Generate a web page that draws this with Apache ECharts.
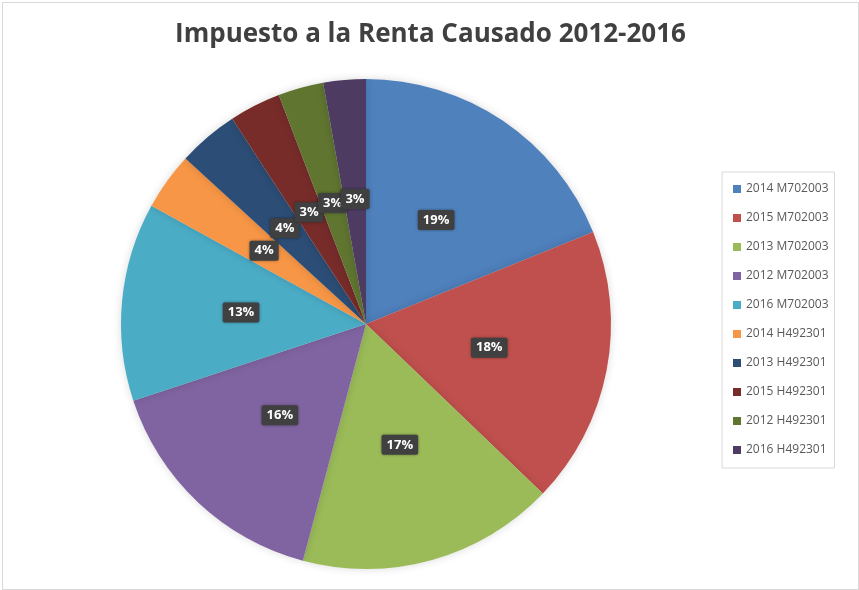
<!DOCTYPE html>
<html>
<head>
<meta charset="UTF-8" />
<script type="text/javascript" src="https://cdn.jsdelivr.net/npm/echarts@6/dist/echarts.min.js"></script>
<style>
	body { margin: 0; background: #fff; }
	#chartmain { position: absolute; left: 2px; top: 2px; width: 855px; height: 586px; border: 1px solid #d9d9d9; }
</style>
</head>
<body>
	<div id="chartmain"></div>

	<script type="text/javascript">
		// categorias y valores (en %)
		var categorias = ['2014 M702003', '2015 M702003', '2013 M702003', '2012 M702003', '2016 M702003',
			'2014 H492301', '2013 H492301', '2015 H492301', '2012 H492301', '2016 H492301'];
		var valores = [18.9, 18.3, 17.0, 15.8, 13.1, 3.8, 4.0, 3.4, 3.0, 2.8];
		var colores = ['#4F81BD', '#C0504D', '#9BBB59', '#8064A2', '#4BACC6',
			'#F79646', '#2C4D75', '#772C2A', '#5F7530', '#4D3B62'];

		var datos = [];
		for (var i = 0; i < categorias.length; i++) {
			datos.push({ name: categorias[i], value: valores[i] });
		}

		var option = {
			color: colores,
			title: {
				text: 'Impuesto a la Renta Causado 2012-2016',
				left: 'center',
				top: 14,
				textStyle: {
					fontFamily: 'Open Sans',
					fontSize: 26,
					fontWeight: 'bold',
					color: '#404040'
				}
			},
			legend: {
				orient: 'vertical',
				left: 719,
				top: 169,
				width: 126,
				data: categorias,
				itemWidth: 8,
				itemHeight: 8,
				itemGap: 17,
				icon: 'rect',
				borderColor: '#d9d9d9',
				borderWidth: 1,
				padding: [11, 6, 12, 11],
				textStyle: {
					fontFamily: 'Open Sans',
					fontSize: 12,
					color: '#595959'
				}
			},
			series: [{
				name: 'Impuesto',
				type: 'pie',
				center: [363, 321],
				radius: 245,
				startAngle: 90,
				clockwise: true,
				avoidLabelOverlap: false,
				data: datos,
				itemStyle: {
					shadowBlur: 8,
					shadowColor: 'rgba(0,0,0,0.15)'
				},
				label: {
					position: 'inside',
					formatter: function (p) { return Math.round(p.percent) + '%'; },
					color: '#fff',
					fontFamily: 'Open Sans',
					fontWeight: 'bold',
					fontSize: 13,
					backgroundColor: '#404040',
					borderRadius: 2,
					padding: [4, 5, 3, 5],
					shadowBlur: 3,
					shadowColor: 'rgba(0,0,0,0.4)'
				},
				labelLayout: { hideOverlap: false },
				labelLine: { show: false },
				emphasis: { disabled: true }
			}]
		};

		var myChart = echarts.init(document.getElementById('chartmain'));
		myChart.setOption(option);
	</script>
</body>
</html>
